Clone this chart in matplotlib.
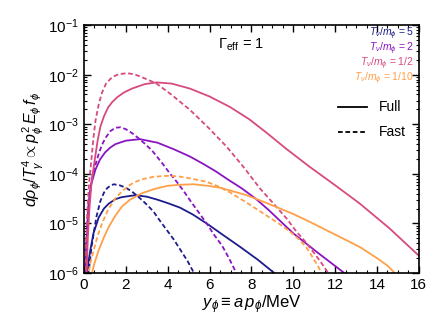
import numpy as np
import matplotlib
matplotlib.use("Agg")
import matplotlib.pyplot as plt
import matplotlib.ticker as ticker

plt.rcParams['font.family'] = ['Liberation Sans', 'DejaVu Sans']
plt.rcParams['mathtext.fontset'] = 'custom'
plt.rcParams['mathtext.rm'] = 'Liberation Sans'
plt.rcParams['mathtext.it'] = 'Liberation Sans:italic'
plt.rcParams['mathtext.bf'] = 'Liberation Sans:bold'

# values, stored as log10 of the y value
# T_nu/m_phi = 5
ns_x = [0.08, 0.15, 0.22, 0.30, 0.45, 0.70, 0.95, 1.18, 1.5, 1.8, 2.45, 3.0, 3.5, 4.0, 4.58,
        5.2, 5.86, 6.6, 7.45, 8.3, 9.15]
ns_log = [-6.5, -6.0, -5.75, -5.54, -5.2, -4.88, -4.7, -4.6, -4.51, -4.47, -4.43, -4.46, -4.52,
          -4.59, -4.68, -4.82, -5.0, -5.22, -5.47, -5.73, -6.02]
nd_x = [0.08, 0.15, 0.25, 0.35, 0.46, 0.6, 0.78, 0.95, 1.1, 1.25, 1.42, 1.7, 2.0, 2.3, 2.59,
        2.95, 3.3, 3.6, 3.95, 4.3, 4.6, 4.95, 5.28]
nd_log = [-6.5, -6.2, -5.87, -5.5, -5.2, -4.85, -4.55, -4.38, -4.29, -4.24, -4.21, -4.23,
          -4.28, -4.36, -4.46, -4.6, -4.75, -4.93, -5.13, -5.33, -5.53, -5.76, -6.02]
# T_nu/m_phi = 2
vs_x = [0.05, 0.1, 0.22, 0.35, 0.54, 0.75, 1.0, 1.25, 1.5, 2.0, 2.67, 3.5, 4.27, 5.06, 5.7,
        6.3, 6.9, 7.53, 8.2, 8.8, 9.4, 10.0, 10.6, 11.2, 11.85, 12.5]
vs_log = [-6.5, -5.5, -4.6, -4.2, -3.92, -3.72, -3.57, -3.47, -3.40, -3.33, -3.30, -3.37, -3.50,
          -3.65, -3.80, -3.95, -4.12, -4.29, -4.5, -4.72, -4.96, -5.2, -5.4, -5.6, -5.81, -6.02]
vd_x = [0.04, 0.1, 0.15, 0.22, 0.3, 0.45, 0.70, 0.85, 1.02, 1.25, 1.5, 1.75, 2.0, 2.3, 2.6,
        2.9, 3.23, 3.5, 3.8, 4.1, 4.43, 4.75, 5.06, 5.45, 5.86, 6.2, 6.6, 6.95, 7.3]
vd_log = [-6.5, -5.6, -5.1, -4.65, -4.3, -3.95, -3.6, -3.42, -3.28, -3.14, -3.07, -3.06, -3.10,
          -3.18, -3.28, -3.39, -3.52, -3.66, -3.82, -3.99, -4.16, -4.34, -4.53, -4.76, -5.0,
          -5.22, -5.45, -5.72, -6.02]
# T_nu/m_phi = 1/2
ps_x = [0.10, 0.18, 0.25, 0.35, 0.51, 0.65, 0.78, 0.95, 1.15, 1.35, 1.6, 1.9, 2.29, 2.9, 3.47,
        4.2, 5.06, 6.0, 6.97, 7.9, 8.72, 9.68, 10.79, 12.0, 13.18, 14.6, 16.0]
ps_log = [-6.3, -5.3, -4.75, -4.2, -3.72, -3.33, -3.05, -2.84, -2.66, -2.55, -2.45, -2.36,
          -2.28, -2.19, -2.155, -2.18, -2.28, -2.44, -2.65, -2.9, -3.17, -3.50, -3.86, -4.23,
          -4.6, -5.1, -5.65]
pd_x = [0.05, 0.1, 0.15, 0.25, 0.35, 0.45, 0.55, 0.7, 0.86, 1.05, 1.34, 1.65, 2.05, 2.4, 2.7,
        3.1, 3.47, 4.2, 5.06, 5.9, 6.81, 7.6, 8.4, 9.12, 9.7, 10.16, 10.6, 11.0, 11.35, 11.67]
pd_log = [-6.4, -5.4, -4.8, -4.15, -3.72, -3.27, -2.92, -2.6, -2.36, -2.18, -2.05, -1.99,
          -1.97, -1.99, -2.04, -2.11, -2.18, -2.41, -2.71, -3.05, -3.45, -3.85, -4.29, -4.63,
          -4.91, -5.17, -5.38, -5.6, -5.8, -6.0]
# T_nu/m_phi = 1/10
os_x = [0.28, 0.38, 0.5, 0.70, 0.95, 1.18, 1.5, 1.81, 2.2, 2.77, 3.4, 4.0, 4.6, 5.22, 5.9, 6.5,
        7.1, 7.77, 8.5, 9.2, 10.0, 10.8, 11.6, 12.5, 13.2, 14.0, 14.5, 14.9]
os_log = [-6.4, -6.0, -5.8, -5.54, -5.28, -5.07, -4.84, -4.66, -4.52, -4.39, -4.30, -4.24,
          -4.22, -4.21, -4.24, -4.28, -4.35, -4.43, -4.55, -4.67, -4.81, -4.97, -5.14, -5.33,
          -5.48, -5.7, -5.85, -6.02]
od_x = [0.14, 0.22, 0.32, 0.46, 0.65, 0.86, 1.15, 1.5, 1.8, 2.1, 2.4, 2.77, 3.3, 3.95, 4.5,
        5.06, 5.86, 6.4, 7.0, 7.77, 8.5, 9.3, 9.8, 10.3, 10.65, 10.95, 11.2, 11.35]
od_log = [-6.4, -6.0, -5.77, -5.54, -5.25, -5.0, -4.72, -4.49, -4.36, -4.25, -4.17, -4.11,
          -4.06, -4.04, -4.05, -4.09, -4.16, -4.25, -4.38, -4.58, -4.78, -5.0, -5.15, -5.33,
          -5.5, -5.7, -5.87, -6.02]

labels = [r'$T_\nu/m_\phi$ = 5', r'$T_\nu/m_\phi$ = 2', r'$T_\nu/m_\phi$ = 1/2',
          r'$T_\nu/m_\phi$ = 1/10']
colors = ['#1c1c8c', '#8a14c2', '#d64a80', '#ffa048']
full = [(ns_x, ns_log), (vs_x, vs_log), (ps_x, ps_log), (os_x, os_log)]
fast = [(nd_x, nd_log), (vd_x, vd_log), (pd_x, pd_log), (od_x, od_log)]

fig = plt.figure(figsize=(4.47, 3.35), dpi=100)
ax = fig.add_axes([0.188, 0.185, 0.749, 0.74])

dash = (0, (2.6, 1.5))
for c, (x, l), (xd, ld) in zip(colors, full, fast):
    ax.plot(x, 10 ** np.array(l), color=c, lw=1.3)
    ax.plot(xd, 10 ** np.array(ld), color=c, lw=1.3, linestyle=dash)

ax.set_yscale('log')
ax.set_xlim(0, 16)
ax.set_ylim(1e-6, 1e-1)
ax.xaxis.set_major_locator(ticker.MultipleLocator(2))
ax.xaxis.set_minor_locator(ticker.MultipleLocator(0.5))
ax.yaxis.set_major_locator(ticker.LogLocator(base=10, numticks=10))
ax.yaxis.set_minor_locator(ticker.LogLocator(base=10, subs=np.arange(2, 10), numticks=20))
ax.yaxis.set_minor_formatter(ticker.NullFormatter())
ax.tick_params(which='both', direction='in', top=True, right=True, labelsize=11)
ax.tick_params(which='major', length=5, width=1)
ax.tick_params(which='minor', length=2.5, width=0.8)
for s in ax.spines.values():
    s.set_linewidth(1.2)

ax.set_xlabel(r'$y_\phi \equiv a\,p_\phi/\mathrm{MeV}$', fontsize=12, labelpad=1)
ax.set_ylabel(r'$d\rho_\phi/T_\gamma^4 \propto p_\phi^2\,E_\phi\,f_\phi$', fontsize=11.5,
              labelpad=2)

ax.text(0.40, 0.92, r'$\Gamma_\mathrm{eff}$ = 1', transform=ax.transAxes, fontsize=10.5,
        va='center', ha='left')
for i, (lab, c) in enumerate(zip(labels, colors)):
    ax.text(0.985, 0.963 - i * 0.0605, lab, color=c, fontsize=7.5, transform=ax.transAxes,
            ha='right', va='center')

ax.plot([0.76, 0.845], [0.669, 0.669], color='k', lw=1.3, transform=ax.transAxes)
ax.plot([0.76, 0.845], [0.568, 0.568], color='k', lw=1.3, linestyle=dash, transform=ax.transAxes)
ax.text(0.88, 0.669, 'Full', fontsize=10, transform=ax.transAxes, va='center', ha='left')
ax.text(0.88, 0.568, 'Fast', fontsize=10, transform=ax.transAxes, va='center', ha='left')

fig.savefig('out.png', dpi=100)
